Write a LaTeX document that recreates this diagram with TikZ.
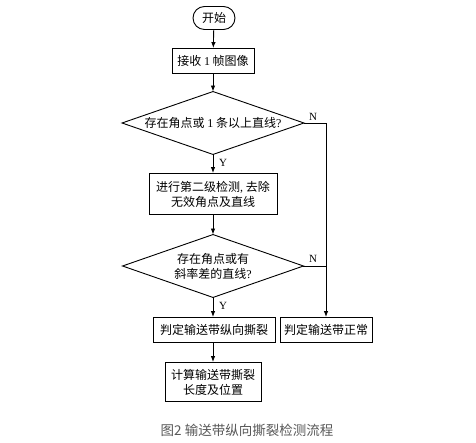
\documentclass[tikz,border=0pt]{standalone}
\usepackage{fontspec}
\setmainfont{Liberation Serif}
\newfontfamily\cjk{Noto Sans CJK SC}
\usetikzlibrary{arrows.meta}
\begin{document}
\begin{tikzpicture}[x=1pt,y=-1pt,
  every path/.style={line width=0.9pt},
  box/.style={draw,line width=0.9pt,font=\cjk\fontsize{12}{15}\selectfont,align=center,inner sep=0pt},
  dia/.style={font=\cjk\fontsize{12}{15}\selectfont,align=center,inner sep=0pt},
  diaedge/.style={draw,line width=0.9pt,line join=miter},
  arr/.style={-{Latex[length=6pt,width=4.5pt]},line width=0.9pt},
  lab/.style={font=\fontsize{11}{12}\selectfont,inner sep=0pt}]
\useasboundingbox[fill=white] (0,0) rectangle (476,443);
\node[box,rounded corners=11.5pt,minimum width=42pt,minimum height=23pt] (s) at (214,18) {开始};
\node[box,minimum width=82pt,minimum height=25pt] (b1) at (213,61) {接收 {\rmfamily 1} 帧图像};
\node[dia,minimum width=181pt,minimum height=62pt] (d1) at (213,123) {存在角点或 {\rmfamily 1} 条以上直线{\rmfamily ?}};
\node[box,minimum width=128pt,minimum height=41pt] (b2) at (213,194) {进行第二级检测{\rmfamily ,} 去除\\无效角点及直线};
\node[dia,minimum width=180pt,minimum height=62pt] (d2) at (213,266) {存在角点或有\\斜率差的直线{\rmfamily ?}};
\node[box,minimum width=122pt,minimum height=25pt] (b3) at (214,330) {判定输送带纵向撕裂};
\node[box,minimum width=92pt,minimum height=25pt] (b4) at (326,330) {判定输送带正常};
\node[box,minimum width=96pt,minimum height=39pt] (b5) at (213,382) {计算输送带撕裂\\长度及位置};
\node[font=\cjk\fontsize{13.5}{15}\selectfont,text=black!65] (cap) at (247,430) {图2 输送带纵向撕裂检测流程};
\node[lab] (y1) at (223,163) {Y};
\node[lab] (y2) at (223,306) {Y};
\node[lab] (n1) at (313,117) {N};
\node[lab] (n2) at (313,259) {N};
\draw[diaedge] (d1.north) -- (d1.east) -- (d1.south) -- (d1.west) -- cycle;
\draw[diaedge] (d2.north) -- (d2.east) -- (d2.south) -- (d2.west) -- cycle;
\coordinate (j1) at (d1.east -| b4.north);
\coordinate (j2) at (d2.east -| b4.north);
\draw[arr] (s) -- (b1);
\draw[arr] (b1) -- (d1.north);
\draw[arr] (d1.south) -- (b2);
\draw[arr] (b2) -- (d2.north);
\draw[arr] (d2.south) -- (d2.south |- b3.north);
\draw[arr] (b3.south -| b5.north) -- (b5);
\draw[arr] (d1.east) -- (j1) -- (b4.north);
\draw (d2.east) -- (j2);
\end{tikzpicture}
\end{document}
